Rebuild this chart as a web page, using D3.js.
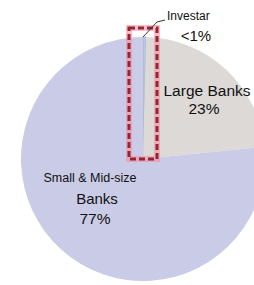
<!DOCTYPE html>
<html>
<head>
<meta charset="utf-8">
<script src="https://cdn.jsdelivr.net/npm/d3@7"></script>
<style>
  body { margin: 0; background: #fff; }
  svg { display: block; font-family: "Liberation Sans", Arial, sans-serif; }
</style>
</head>
<body>
<div id="chart"></div>
<script>
const segments = ["Investar", "Large Banks", "Small & Mid-size Banks"];
const shares = [0.4, 23, 76.6];
const colors = ["#bcc6de", "#dcd9d7", "#c9cbe7"];

drawChart();

function drawChart() {
  const width = 254, height = 285;
  const cx = 143, cy = 159, radius = 122;

  const svg = d3.select("#chart").append("svg")
      .attr("width", width)
      .attr("height", height);

  const g = svg.append("g")
      .attr("transform", "translate(" + cx + "," + cy + ")");

  const pie = d3.pie().sort(null).value(d => d.value);
  const arc = d3.arc().innerRadius(0).outerRadius(radius);

  const data = segments.map((s, i) => ({ name: s, value: shares[i], color: colors[i] }));

  g.selectAll("path")
    .data(pie(data))
    .enter()
    .append("path")
    .attr("d", arc)
    .style("fill", d => d.data.color)
    .style("stroke", (d, i) => i == 0 ? "#a8b6d4" : "none")
    .style("stroke-width", 1);

  // highlight box round the Investar sliver
  const box = { x: -14, y: -radius - 9, w: 28, h: radius + 9 };
  g.append("rect")
    .attr("x", box.x).attr("y", box.y)
    .attr("width", box.w).attr("height", box.h)
    .style("fill", "none")
    .style("stroke", "#f48a9a")
    .style("stroke-opacity", 0.55)
    .style("stroke-width", 6);
  g.append("rect")
    .attr("x", box.x).attr("y", box.y)
    .attr("width", box.w).attr("height", box.h)
    .style("fill", "none")
    .style("stroke", "#962434")
    .style("stroke-width", 3)
    .style("stroke-dasharray", "6,3");

  // leader line to the Investar label
  svg.append("path")
    .attr("d", "M" + (cx) + "," + (cy - radius) + " L" + (cx + 14) + "," + 22 + " L" + (cx + 22) + "," + 20)
    .style("fill", "none")
    .style("stroke", "#333")
    .style("stroke-width", 1);

  const labels = [
    { text: "Investar", x: 167, y: 20, size: 12, anchor: "start" },
    { text: "<1%", x: 196, y: 41, size: 15, anchor: "middle" },
    { text: "Large Banks", x: 207, y: 96, size: 15.5, anchor: "middle" },
    { text: "23%", x: 204, y: 114, size: 15.5, anchor: "middle" },
    { text: "Small & Mid-size", x: 90, y: 182, size: 12.5, anchor: "middle" },
    { text: "Banks", x: 97, y: 204, size: 15, anchor: "middle" },
    { text: "77%", x: 95, y: 224, size: 15.5, anchor: "middle" }
  ];

  svg.selectAll("text")
    .data(labels)
    .enter()
    .append("text")
    .attr("x", d => d.x)
    .attr("y", d => d.y)
    .attr("text-anchor", d => d.anchor)
    .style("font-size", d => d.size + "px")
    .style("fill", "#111")
    .text(d => d.text);
}
</script>
</body>
</html>
